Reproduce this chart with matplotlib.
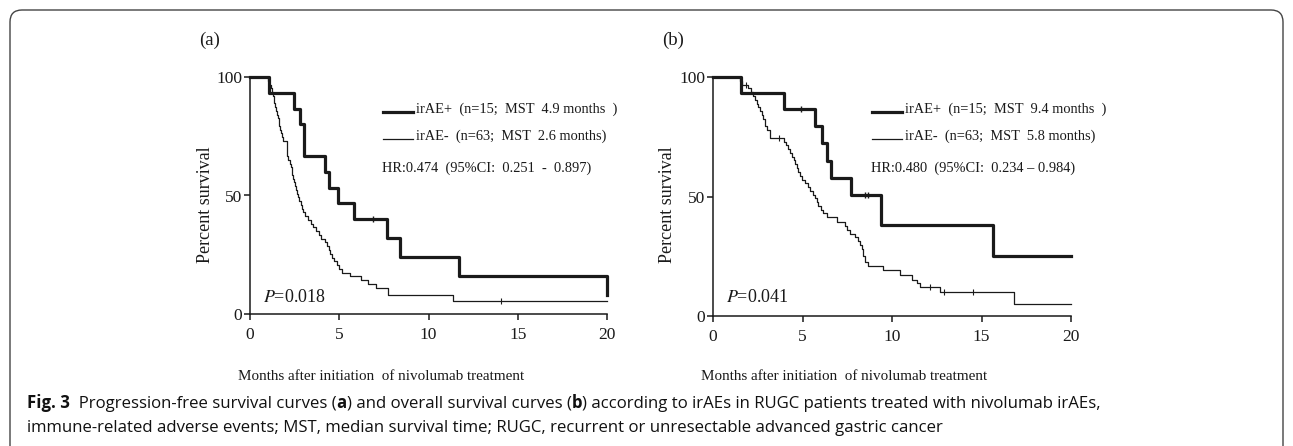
import matplotlib
matplotlib.use("Agg")
import matplotlib.pyplot as plt
from matplotlib.patches import FancyBboxPatch

# ---------------- data ----------------
# Panel (a): progression-free survival
a_pos_t = [0, 1.07, 2.44, 2.80, 3.00, 4.20, 4.45, 4.95, 5.85, 7.70, 8.40, 11.70, 20.0]
a_pos_s = [100, 93.3, 86.7, 80.0, 66.7, 60.0, 53.3, 46.7, 40.0, 32.0, 24.0, 16.0, 8.0]
a_pos_cens_t = [6.9]
a_pos_cens_s = [40.0]

a_neg_t = [0, 1.03, 1.08, 1.16, 1.22, 1.28, 1.33, 1.37, 1.40, 1.45, 1.49, 1.55, 1.60, 1.65,
           1.70, 1.76, 1.82, 1.87, 2.05, 2.15, 2.26, 2.30, 2.33, 2.37, 2.42, 2.47, 2.52, 2.57,
           2.63, 2.70, 2.76, 2.83, 2.89, 2.98, 3.10, 3.27, 3.40, 3.55, 3.70, 3.85, 4.00, 4.20,
           4.30, 4.40, 4.50, 4.60, 4.72, 4.85, 4.98, 5.13, 5.60, 6.20, 6.60, 7.07, 7.73, 11.40, 20.0]
a_neg_s = [100, 98.4, 96.8, 95.2, 93.7, 92.1, 90.5, 88.9, 87.3, 85.7, 84.1, 82.5, 81.0, 79.4,
           77.8, 76.2, 74.6, 73.0, 66.7, 65.1, 63.5, 61.9, 60.3, 58.7, 57.1, 55.6, 54.0, 52.4,
           50.8, 49.2, 47.6, 46.0, 44.4, 42.9, 41.3, 39.7, 38.1, 36.5, 34.9, 33.3, 31.7, 30.2,
           28.6, 27.0, 25.4, 23.8, 22.2, 20.6, 19.0, 17.5, 15.9, 14.3, 12.7, 11.1, 7.9, 5.6, 5.6]
a_neg_cens_t = [14.05]
a_neg_cens_s = [5.6]

# Panel (b): overall survival
b_pos_t = [0, 1.55, 3.97, 5.69, 6.10, 6.38, 6.59, 7.69, 9.37, 15.67, 20.0]
b_pos_s = [100, 93.3, 86.7, 79.4, 72.2, 65.0, 57.8, 50.5, 37.9, 25.3, 25.3]
b_pos_cens_t = [4.94, 8.50, 8.65]
b_pos_cens_s = [86.7, 50.5, 50.5]

b_neg_t = [0, 1.50, 1.62, 1.95, 2.10, 2.25, 2.33, 2.44, 2.52, 2.63, 2.72, 2.81, 2.90, 3.00,
           3.18, 3.98, 4.10, 4.21, 4.30, 4.40, 4.50, 4.58, 4.68, 4.77, 4.86, 4.95, 5.14, 5.28,
           5.42, 5.56, 5.70, 5.80, 5.88, 6.02, 6.16, 6.35, 6.90, 7.37, 7.50, 7.65, 7.93, 8.12,
           8.21, 8.30, 8.40, 8.49, 8.68, 9.51, 10.45, 11.10, 11.40, 11.57, 12.70, 16.80, 20.0]
b_neg_s = [100, 98.4, 96.8, 95.2, 93.7, 92.1, 90.5, 88.9, 87.3, 85.7, 84.1, 82.5, 79.4, 77.8,
           74.6, 73.0, 71.4, 69.8, 68.3, 66.7, 65.1, 63.5, 61.9, 60.3, 58.7, 57.1, 55.6, 54.0,
           52.4, 50.8, 49.2, 47.6, 46.0, 44.4, 42.9, 41.3, 39.4, 37.7, 36.1, 34.5, 32.9, 31.3,
           29.7, 28.1, 24.9, 22.4, 20.8, 19.2, 17.0, 15.1, 13.6, 12.2, 10.2, 4.9, 4.9]
b_neg_cens_t = [1.85, 3.70, 12.10, 12.90, 14.55]
b_neg_cens_s = [96.8, 74.6, 12.2, 10.2, 10.2]

x_ticks = [0, 5, 10, 15, 20]
y_ticks = [0, 50, 100]

panel_labels = ["(a)", "(b)"]
legend_pos = ["irAE+  (n=15;  MST  4.9 months  )", "irAE+  (n=15;  MST  9.4 months  )"]
legend_neg = ["irAE-  (n=63;  MST  2.6 months)", "irAE-  (n=63;  MST  5.8 months)"]
hr_texts = ["HR:0.474  (95%CI:  0.251  -  0.897)", "HR:0.480  (95%CI:  0.234 \u2013 0.984)"]
p_texts = ["=0.018", "=0.041"]
xlabel = "Months after initiation  of nivolumab treatment"
ylabel = "Percent survival"

cap_line1 = [("Fig. 3", "bold"), ("  Progression-free survival curves (", "normal"), ("a", "bold"),
             (") and overall survival curves (", "normal"), ("b", "bold"),
             (") according to irAEs in RUGC patients treated with nivolumab irAEs,", "normal")]
cap_line2 = "immune-related adverse events; MST, median survival time; RUGC, recurrent or unresectable advanced gastric cancer"

# ---------------- figure ----------------
W, H = 1293, 446
fig = plt.figure(figsize=(W / 100, H / 100), dpi=100)
serif = "Liberation Serif"
ink = "#1a1a1a"

def px_axes(l, r, t, b):
    return [l / W, 1 - b / H, (r - l) / W, (b - t) / H]

axes_px = [(250, 607, 77, 314), (713, 1071, 77, 316)]
data = [
    (a_pos_t, a_pos_s, a_pos_cens_t, a_pos_cens_s, a_neg_t, a_neg_s, a_neg_cens_t, a_neg_cens_s),
    (b_pos_t, b_pos_s, b_pos_cens_t, b_pos_cens_s, b_neg_t, b_neg_s, b_neg_cens_t, b_neg_cens_s),
]

for i, (pos_t, pos_s, pc_t, pc_s, neg_t, neg_s, nc_t, nc_s) in enumerate(data):
    l, r, t, b = axes_px[i]
    ax = fig.add_axes(px_axes(l, r, t, b))
    ax.step(neg_t, neg_s, where="post", color=ink, lw=0.9, clip_on=False, zorder=3)
    ax.step(pos_t, pos_s, where="post", color=ink, lw=2.3, clip_on=False, zorder=4)
    ax.plot(pc_t, pc_s, ls="none", marker="|", ms=5, mew=1.0, color=ink, zorder=5)
    ax.plot(nc_t, nc_s, ls="none", marker="|", ms=5, mew=0.8, color=ink, zorder=5)
    ax.set_xlim(0, 20)
    ax.set_ylim(0, 100)
    ax.set_xticks(x_ticks)
    ax.set_yticks(y_ticks)
    for sp in ["top", "right"]:
        ax.spines[sp].set_visible(False)
    for sp in ["left", "bottom"]:
        ax.spines[sp].set_linewidth(1.1)
        ax.spines[sp].set_color(ink)
    ax.tick_params(direction="out", length=4.2, width=1.1, colors=ink, labelsize=12.5)
    ax.tick_params(axis="y", pad=1.5)
    ax.tick_params(axis="x", pad=5)
    for lab in ax.get_xticklabels() + ax.get_yticklabels():
        lab.set_fontfamily(serif)
    ax.patch.set_alpha(0)

    # panel label
    fig.text((l - 40) / W, 1 - 40 / H, panel_labels[i], family=serif, fontsize=13.5,
             ha="center", va="center", color=ink)
    # y label
    fig.text((l - 45) / W, 1 - 205 / H, ylabel, family=serif, fontsize=13,
             rotation=90, ha="center", va="center", color=ink)
    # x label
    fig.text((l + 131) / W, 1 - 377 / H, xlabel, family=serif, fontsize=10.9,
             ha="center", va="center", color=ink)

    # legend
    lx0 = l + 133 if i == 0 else l + 159
    for j, (txt, lw) in enumerate([(legend_pos[i], 2.3), (legend_neg[i], 0.9)]):
        yy = 112 + j * 27
        fig.add_artist(plt.Line2D([lx0 / W, (lx0 + 30) / W], [1 - yy / H, 1 - yy / H],
                                  color=ink, lw=lw))
        fig.text((lx0 + 33) / W, 1 - (yy - 3) / H, txt, family=serif, fontsize=10.4,
                 ha="left", va="center", color=ink)
    fig.text((lx0 - 1) / W, 1 - 168 / H, hr_texts[i], family=serif, fontsize=10.4,
             ha="left", va="center", color=ink)
    # P value
    fig.text((l + 13) / W, 1 - 298 / H, "$\\mathit{P}$" + p_texts[i], family=serif,
             fontsize=13, ha="left", va="center", color=ink,
             math_fontfamily="stix")

# border with rounded corners
border = FancyBboxPatch((0.10, -1.0), 12.73, 5.36,
                        boxstyle="round,pad=0,rounding_size=0.12",
                        transform=fig.dpi_scale_trans, fill=False, ec="#444444", lw=1.0)
fig.add_artist(border)

# caption (rainbow text)
cax = fig.add_axes([0, 0, 1, 1])
cax.axis("off")
cax.set_xlim(0, W)
cax.set_ylim(H, 0)
cap_family = ["Open Sans", "DejaVu Sans"]
cap_size = 12.1
prev = None
for s, wgt in cap_line1:
    if prev is None:
        prev = cax.text(27, 408, s, family=cap_family, fontsize=cap_size, weight=wgt,
                        ha="left", va="baseline", color="#111111")
    else:
        prev = cax.annotate(s, xy=(1, 0), xycoords=prev, va="bottom", ha="left",
                            family=cap_family, fontsize=cap_size, weight=wgt, color="#111111")
cax.text(27, 432, cap_line2, family=cap_family, fontsize=cap_size,
         ha="left", va="baseline", color="#111111")

fig.savefig("out.png", dpi=100)
